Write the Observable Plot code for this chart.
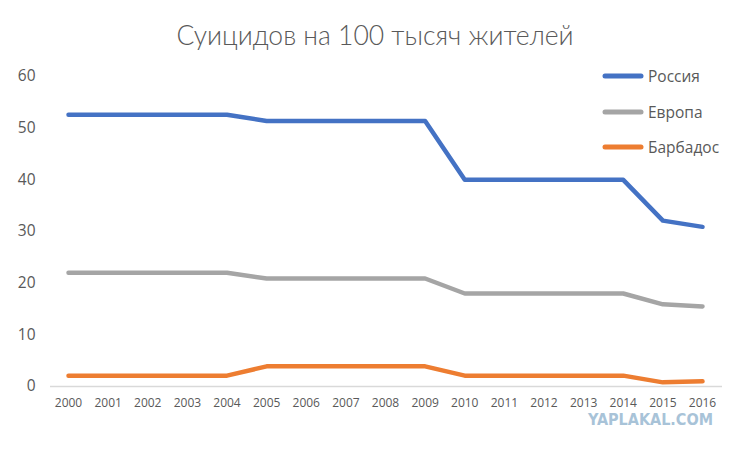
<!DOCTYPE html>
<html>
<head>
<meta charset="utf-8">
<script src="https://cdn.jsdelivr.net/npm/d3@7"></script>
<script src="https://cdn.jsdelivr.net/npm/@observablehq/plot@0.6"></script>
<style>
  body { margin: 0; background: #fff; width: 750px; height: 449px; overflow: hidden; position: relative; font-family: "Open Sans", sans-serif; }
  #title { height: 60px; line-height: 70px; text-align: center; font-family: Lato, "Open Sans", sans-serif; font-weight: 300; font-size: 26.5px; color: #595959; }
  #legend { position: absolute; left: 601px; top: 65px; font-family: "Open Sans", sans-serif; font-size: 15.5px; color: #595959; }
  .item { height: 35.5px; display: flex; align-items: flex-start; }
  .item svg { margin-top: 1px; margin-right: 3px; }
  #wm { position: absolute; left: 588px; top: 414px; line-height: 12px; height: 12px; font-family: "DejaVu Sans Condensed", "DejaVu Sans", sans-serif; font-weight: bold; font-size: 16px; color: #a8c3d8; }
</style>
</head>
<body>
<div id="title">Суицидов на 100 тысяч жителей</div>
<div id="chart"></div>
<div id="legend"></div>
<div id="wm">YAPLAKAL.COM</div>
<script>
const years = [2000,2001,2002,2003,2004,2005,2006,2007,2008,2009,2010,2011,2012,2013,2014,2015,2016];
const russia   = [52.6,52.6,52.6,52.6,52.6,51.4,51.4,51.4,51.4,51.4,40.0,40.0,40.0,40.0,40.0,32.1,30.9];
const europe   = [22.0,22.0,22.0,22.0,22.0,20.9,20.9,20.9,20.9,20.9,18.0,18.0,18.0,18.0,18.0,15.9,15.5];
const barbados = [2.1,2.1,2.1,2.1,2.1,3.9,3.9,3.9,3.9,3.9,2.1,2.1,2.1,2.1,2.1,0.8,1.0];
const seriesNames = ["Россия","Европа","Барбадос"];
const seriesColors = ["#4472C4","#A5A5A5","#ED7D31"];
const yTicks = [0,10,20,30,40,50,60];

const seriesValues = [russia, europe, barbados];
const data = [];
seriesNames.forEach((name, i) => {
  years.forEach((yr, j) => data.push({series: name, year: yr, value: seriesValues[i][j]}));
});

const chart = Plot.plot({
  width: 750,
  height: 389,
  marginTop: 16,
  marginBottom: 63,
  marginLeft: 50,
  marginRight: 28,
  style: {fontFamily: "'Open Sans', sans-serif", color: "#595959", background: "#fff"},
  x: {type: "linear", domain: [2000, 2016], insetLeft: 18, insetRight: 20, ticks: years, tickFormat: d => String(d), tickSize: 0, tickPadding: 12, label: null},
  y: {domain: [0, 60], ticks: yTicks, tickSize: 0, tickPadding: 15, label: null},
  color: {domain: seriesNames, range: seriesColors},
  marks: [
    Plot.ruleY([0], {stroke: "#d9d9d9", strokeWidth: 1.5}),
    Plot.axisY({ticks: yTicks, tickSize: 0, tickPadding: 15, fontSize: 15.5, label: null}),
    Plot.axisX({ticks: years, tickFormat: d => String(d), tickSize: 0, tickPadding: 12, fontSize: 12, label: null}),
    Plot.line(data, {x: "year", y: "value", z: "series", stroke: "series", strokeWidth: 4.5, strokeLinecap: "round", strokeLinejoin: "round"})
  ]
});
document.getElementById("chart").appendChild(chart);

const legend = document.getElementById("legend");
seriesNames.forEach((name, i) => {
  const div = document.createElement("div");
  div.className = "item";
  div.innerHTML = `<svg width="44" height="20"><line x1="4" y1="10" x2="40" y2="10" stroke="${seriesColors[i]}" stroke-width="5" stroke-linecap="round"/></svg><span>${name}</span>`;
  legend.appendChild(div);
});
</script>
</body>
</html>
